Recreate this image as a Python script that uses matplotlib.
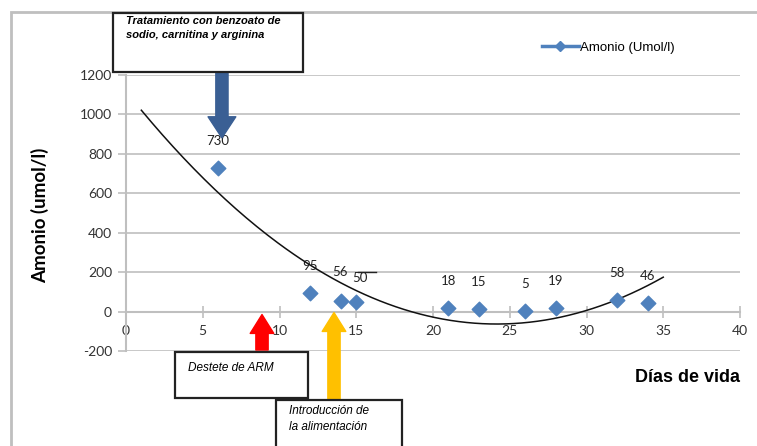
import numpy as np
import matplotlib.pyplot as plt
from matplotlib.patches import Rectangle
from matplotlib.lines import Line2D

plt.rcParams["axes.unicode_minus"] = False

# Ammonia measurements by day of life
dias = [6, 12, 14, 15, 21, 23, 26, 28, 32, 34]
amonio = [730, 95, 56, 50, 18, 15, 5, 19, 58, 46]
etiquetas = [str(v) for v in amonio]
# small label nudges (points) so neighbouring labels do not collide
desplaz_x = [0, 0, -1, 3, 0, 0, 0, 0, 0, 0]
desplaz_y = [0, 0, 1, -2, 0, 0, 0, 0, 0, 0]

x_ticks = [0, 5, 10, 15, 20, 25, 30, 35, 40]
y_ticks = [-200, 0, 200, 400, 600, 800, 1000, 1200]

serie_nombre = "Amonio (Umol/l)"
titulo_y = "Amonio (umol/l)"
titulo_x = "Días de vida"
nota_tratamiento = "Tratamiento con benzoato de\nsodio, carnitina y arginina"
nota_destete = "Destete de ARM"
nota_alimentacion = "Introducción de\nla alimentación"

# Event markers (day of life)
dia_tratamiento = 6.25
dia_destete = 8.86
dia_alimentacion = 13.55

azul = "#4F81BD"
gris = "#BFBFBF"

W, H = 757, 446
fig = plt.figure(figsize=(W / 100, H / 100), dpi=100)
ax = fig.add_axes([126 / W, 1 - 351 / H, (740 - 126) / W, (351 - 75) / H])

# Chart border
fig.add_artist(Rectangle((11 / W, -0.1), 2, 1.1 - 12 / H, transform=fig.transFigure,
                         fill=False, edgecolor=gris, linewidth=2.0))

ax.set_xlim(0, 40)
ax.set_ylim(-200, 1200)
ax.set_xticks(x_ticks)
ax.set_yticks(y_ticks)
ax.grid(axis="y", color=gris, linewidth=1.2)
ax.set_axisbelow(True)
for s in ["top", "right"]:
    ax.spines[s].set_visible(False)
ax.spines["left"].set_color(gris)
ax.spines["left"].set_linewidth(1.5)
ax.spines["bottom"].set_position(("data", 0))
ax.spines["bottom"].set_color(gris)
ax.spines["bottom"].set_linewidth(1.5)
ax.tick_params(axis="y", direction="out", length=6, color=gris, width=1.2,
               labelsize=10, labelcolor="#333333", pad=4)
ax.tick_params(axis="x", direction="inout", length=8, color=gris, width=1.2,
               labelsize=10, labelcolor="#333333", pad=6)
for lab in ax.get_xticklabels() + ax.get_yticklabels():
    lab.set_fontfamily("Lato")

# Data points
ax.scatter(dias, amonio, marker="D", s=55, color=azul, zorder=4)
for x, y, t, dx, dy in zip(dias, amonio, etiquetas, desplaz_x, desplaz_y):
    ax.annotate(t, (x, y), xytext=(dx, 15 + dy), textcoords="offset points",
                ha="center", va="bottom", fontsize=9.5, family="Lato", color="#222222")
ax.plot([15.1, 16.3], [203, 203], color="#222222", linewidth=1.0, zorder=3)

# Second-order polynomial trend
coef = np.polyfit(dias, amonio, 2)
xt = np.linspace(1, 35, 200)
ax.plot(xt, np.polyval(coef, xt), color="#111111", linewidth=1.1, zorder=3)

# Legend
h = Line2D([], [], color=azul, marker="D", markersize=5, linewidth=2.5)
leg = ax.legend([h], [serie_nombre], loc="upper left", bbox_to_anchor=(530 / W, 1 - 30 / H),
                bbox_transform=fig.transFigure, frameon=False, fontsize=9.5,
                handlelength=2.8, handletextpad=0.1)
for t in leg.get_texts():
    t.set_fontfamily("Liberation Sans")

# Axis titles
fig.text(40 / W, 1 - 215 / H, titulo_y, rotation=90, ha="center", va="center",
         fontsize=13.5, fontweight="bold", family="Lato")
fig.text(740 / W, 1 - 378 / H, titulo_x, ha="right", va="center",
         fontsize=13, fontweight="bold", family="Liberation Sans")

# Event arrows
ax.annotate("", xy=(dia_tratamiento, 881), xytext=(dia_tratamiento, 1215),
            arrowprops=dict(arrowstyle="simple,head_width=0.5,head_length=0.38,tail_width=0.22",
                            mutation_scale=40, color="#3A5F94", shrinkA=0, shrinkB=0),
            annotation_clip=False)
ax.annotate("", xy=(dia_destete, -15), xytext=(dia_destete, -195),
            arrowprops=dict(arrowstyle="simple,head_width=0.5,head_length=0.4,tail_width=0.26",
                            mutation_scale=34, color="#FF0000", shrinkA=0, shrinkB=0),
            annotation_clip=False)
ax.annotate("", xy=(dia_alimentacion, -5), xytext=(dia_alimentacion, -880),
            arrowprops=dict(arrowstyle="simple,head_width=0.5,head_length=0.4,tail_width=0.26",
                            mutation_scale=34, color="#FFC000", shrinkA=0, shrinkB=0),
            annotation_clip=False)

# Annotation boxes
def caja(x0, y0, x1, y1):
    fig.add_artist(Rectangle((x0 / W, 1 - y1 / H), (x1 - x0) / W, (y1 - y0) / H,
                             transform=fig.transFigure, facecolor="white",
                             edgecolor="#222222", linewidth=1.6, zorder=5))

caja(113, 13, 303, 72)
fig.text(126 / W, 1 - 16 / H, nota_tratamiento, ha="left", va="top", fontsize=8,
         fontweight="bold", style="italic", family="Liberation Sans",
         linespacing=1.5, zorder=6)

caja(175, 352, 308, 398)
fig.text(188 / W, 1 - 368 / H, nota_destete, ha="left", va="center", fontsize=8.5,
         style="italic", family="Liberation Sans", zorder=6)

caja(276, 400, 402, 470)
fig.text(289 / W, 1 - 405 / H, nota_alimentacion, ha="left", va="top", fontsize=8.5,
         style="italic", family="Liberation Sans", linespacing=1.5, zorder=6)

fig.savefig("out.png", dpi=100)
